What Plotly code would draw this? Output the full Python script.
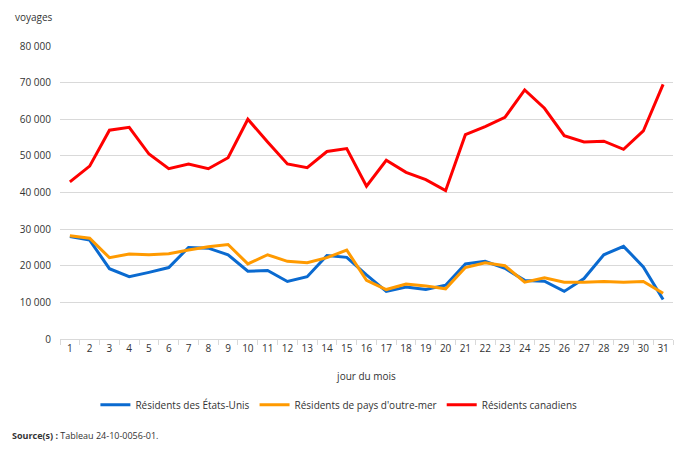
import plotly.graph_objects as go

days = [str(d) for d in range(1, 32)]
us = [28000, 27000, 19200, 17000, 18200, 19500, 25000, 24800, 23000, 18500, 18700, 15700, 17000, 22800, 22300,
      17500, 13000, 14200, 13500, 14700, 20500, 21200, 19300, 16000, 15800, 13000, 16500, 23000, 25300, 19700, 10800]
overseas = [28200, 27500, 22200, 23200, 23000, 23300, 24300, 25200, 25800, 20500, 23000, 21200, 20800, 22200, 24300,
            16000, 13500, 15000, 14500, 13700, 19500, 20800, 20000, 15500, 16700, 15500, 15500, 15700, 15500, 15700, 12500]
canada = [42900, 47200, 57000, 57800, 50500, 46500, 47800, 46500, 49500, 60000, 53800, 47800, 46800, 51200, 52000,
          41700, 48800, 45500, 43500, 40500, 55800, 58000, 60500, 68000, 63000, 55500, 53800, 54000, 51800, 56800, 69500]

series = [
    ("Résidents des États-Unis", us, "#0A6AD0"),
    ("Résidents de pays d'outre-mer", overseas, "#FF9A00"),
    ("Résidents canadiens", canada, "#FF0000"),
]

fig = go.Figure()
for name, vals, col in series:
    fig.add_trace(go.Scatter(x=days, y=vals, name=name, mode="lines",
                             line=dict(color=col, width=3)))

font = dict(family="Open Sans, Liberation Sans, sans-serif", size=10, color="#333333")
fig.update_layout(
    width=675, height=450,
    margin=dict(l=60, r=2, t=46, b=111),
    paper_bgcolor="white", plot_bgcolor="white",
    font=font,
    separators=", ",
    showlegend=True,
    legend=dict(orientation="h", x=0.455, xanchor="center", y=-0.175, yanchor="top",
                font=dict(size=10, color="#333333"), itemwidth=30, traceorder="normal"),
    xaxis=dict(type="category", tickson="boundaries", ticks="outside", ticklen=5,
               range=[-0.5, 30.5], tickangle=0,
               tickcolor="#D9D9D9", showline=True, linecolor="#D9D9D9", showgrid=False,
               title=dict(text="jour du mois", standoff=18, font=dict(size=10, color="#333333"))),
    yaxis=dict(range=[0, 80000], dtick=10000, tickformat=",d", gridcolor="#D9D9D9",
               zeroline=False, showline=False, ticks="", ticklabelstandoff=8),
    annotations=[
        dict(text="voyages", xref="paper", yref="paper", x=0, y=1, xshift=-47, yshift=20,
             xanchor="left", yanchor="bottom", showarrow=False, font=dict(size=10, color="#333333")),
        dict(text="<b>Source(s) :</b> Tableau 24-10-0056-01.", xref="paper", yref="paper",
             x=0, y=0, xshift=-50, yshift=-105, xanchor="left", yanchor="bottom",
             showarrow=False, font=dict(size=9, color="#333333")),
    ],
)

fig.write_html("out.html")
